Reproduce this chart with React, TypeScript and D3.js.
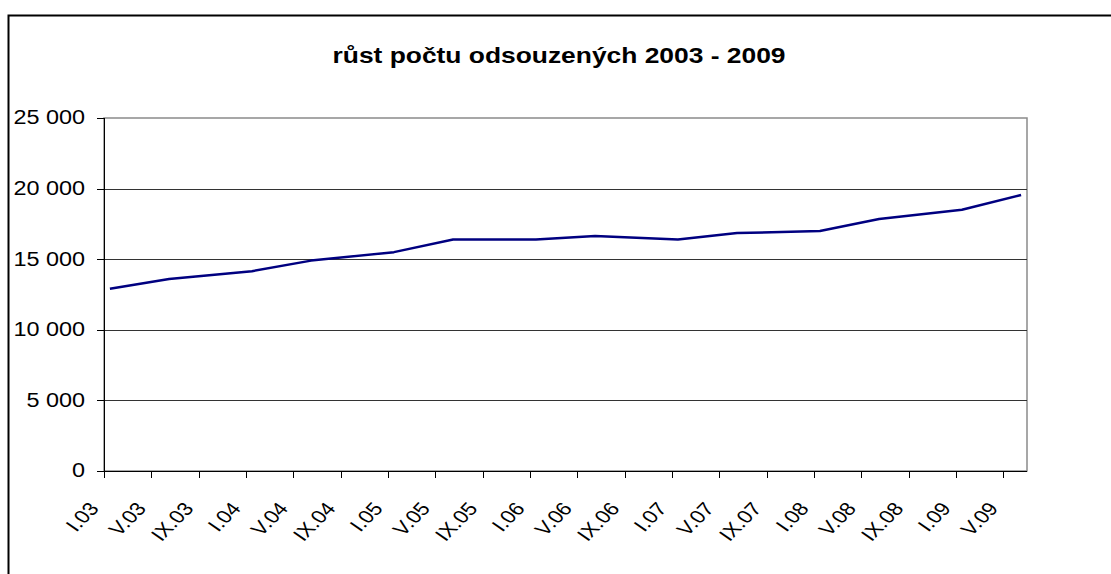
import React from "react";
import * as d3 from "d3";

// categories: one per month, labels every 4th month
const years = ["03", "04", "05", "06", "07", "08", "09"];
const romanMonths = ["I", "II", "III", "IV", "V", "VI", "VII", "VIII", "IX", "X", "XI", "XII"];
const lastMonth = "VI.09";

// measured values (January and June of each year)
const pointMonths = ["I.03", "VI.03", "I.04", "VI.04", "I.05", "VI.05", "I.06", "VI.06", "I.07", "VI.07", "I.08", "VI.08", "I.09", "VI.09"];
const values = [12900, 13600, 14150, 14900, 15500, 16400, 16400, 16650, 16400, 16850, 17000, 17850, 18500, 19550];
const yTicks = [0, 5000, 10000, 15000, 20000, 25000];
const title = "růst počtu odsouzených 2003 - 2009";

const allMonths = years.flatMap((y) => romanMonths.map((m) => `${m}.${y}`));
const months = allMonths.slice(0, allMonths.indexOf(lastMonth) + 1);
const tickMonths = months.filter((_, i) => i % 4 === 0);

const W = 1111, H = 574;
const plot = { left: 104, right: 1027, top: 118, bottom: 471 };
const SX = 1.2; // the picture's text is stretched sideways
const ROT = (Math.atan(SX) * 180) / Math.PI; // so labels end up at 45deg after stretching
const font = "'Liberation Sans', Arial, sans-serif";

const fmt = d3.formatLocale({ decimal: ",", thousands: " ", grouping: [3], currency: ["", ""] }).format(",");

const App = () => {
  const x = d3.scaleBand<string>().domain(months).range([plot.left, plot.right]);
  const y = d3.scaleLinear().domain([0, 25000]).range([plot.bottom, plot.top]);
  const bw = x.bandwidth();

  const line = d3.line<number>()
    .x((_, i) => (x(pointMonths[i]) as number) + bw / 2)
    .y((d) => y(d));

  return (
    <svg width={W} height={H} style={{ position: "absolute", left: 0, top: 0, background: "#fff" }}>
      {/* outer chart frame */}
      <rect x={8.5} y={15.5} width={1200} height={700} fill="#fff" stroke="#000" strokeWidth={2} />

      <text
        transform={`translate(559,63) scale(${SX},1)`}
        textAnchor="middle"
        fontFamily={font}
        fontWeight="bold"
        fontSize={22}
      >
        {title}
      </text>

      {/* plot area border */}
      <rect
        x={plot.left}
        y={plot.top}
        width={plot.right - plot.left}
        height={plot.bottom - plot.top}
        fill="none"
        stroke="#8a8a8a"
        strokeWidth={1.5}
      />

      {/* gridlines */}
      {yTicks.filter((t) => t > 0 && t < 25000).map((t) => (
        <line key={t} x1={plot.left} x2={plot.right} y1={Math.round(y(t)) + 0.5} y2={Math.round(y(t)) + 0.5} stroke="#333" />
      ))}

      {/* y axis */}
      <line x1={plot.left + 0.5} x2={plot.left + 0.5} y1={plot.top} y2={plot.bottom} stroke="#000" />
      {yTicks.map((t) => (
        <g key={t}>
          <line x1={97} x2={plot.left} y1={Math.round(y(t)) + 0.5} y2={Math.round(y(t)) + 0.5} stroke="#000" />
          <text
            transform={`translate(85,${y(t)}) scale(${SX},1)`}
            textAnchor="end"
            dominantBaseline="central"
            fontFamily={font}
            fontSize={19.5}
          >
            {fmt(t)}
          </text>
        </g>
      ))}

      {/* x axis */}
      <line x1={plot.left} x2={plot.right} y1={plot.bottom + 0.5} y2={plot.bottom + 0.5} stroke="#000" />
      {tickMonths.map((m) => {
        const tx = Math.round(x(m) as number) + 0.5;
        const cx = (x(m) as number) + bw / 2;
        return (
          <g key={m}>
            <line x1={tx} x2={tx} y1={plot.bottom} y2={plot.bottom + 7} stroke="#000" />
            <text
              transform={`translate(${cx - 10},${509}) scale(${SX},1) rotate(${-ROT})`}
              textAnchor="end"
              fontFamily={font}
              fontSize={18.5}
            >
              {m}
            </text>
          </g>
        );
      })}

      <path d={line(values) ?? ""} fill="none" stroke="#000080" strokeWidth={2.5} strokeLinejoin="round" />
    </svg>
  );
};

export default App;
